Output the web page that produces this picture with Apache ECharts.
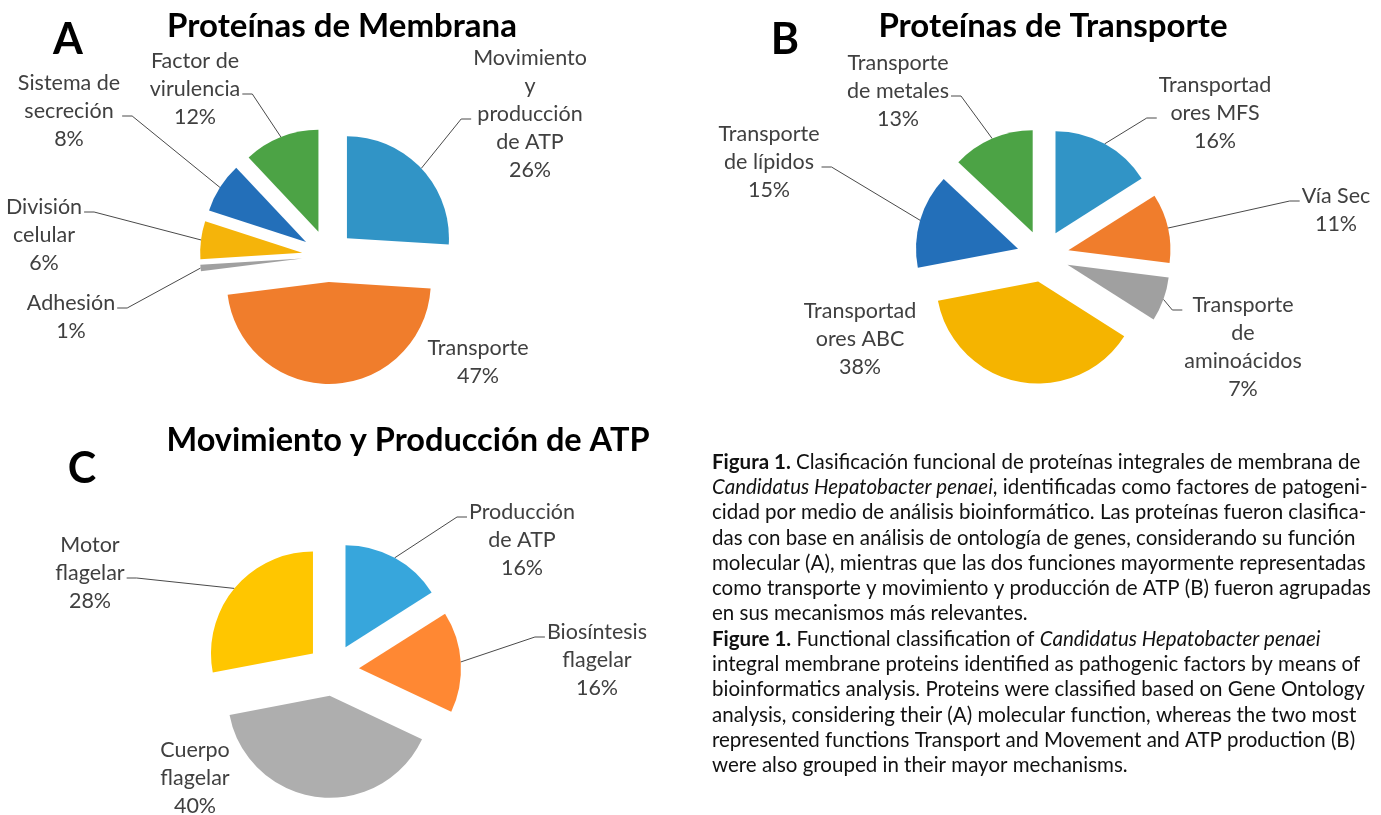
<!DOCTYPE html>
<html>
<head>
<meta charset="utf-8">
<script src="https://cdn.jsdelivr.net/npm/echarts@6/dist/echarts.min.js"></script>
<style>
html, body { margin: 0; padding: 0; background: #fff; }
#main { width: 1381px; height: 815px; }
</style>
</head>
<body>
<div id="main"></div>
<script>
// A - Proteínas de Membrana
var namesA = ['Movimiento\ny\nproducción\nde ATP', 'Transporte', 'Adhesión', 'División\ncelular', 'Sistema de\nsecreción', 'Factor de\nvirulencia'];
var valuesA = [26, 47, 1, 6, 8, 12];
var colorsA = ['#3194C6', '#F07D2C', '#A0A0A0', '#F5B40A', '#236FB9', '#4CA345'];

// B - Proteínas de Transporte
var namesB = ['Transportad\nores MFS', 'Vía Sec', 'Transporte\nde\naminoácidos', 'Transportad\nores ABC', 'Transporte\nde lípidos', 'Transporte\nde metales'];
var valuesB = [16, 11, 7, 38, 15, 13];
var colorsB = ['#3194C6', '#F07D2C', '#A0A0A0', '#F5B400', '#236FB9', '#4CA345'];

// C - Movimiento y Producción de ATP
var namesC = ['Producción\nde ATP', 'Biosíntesis\nflagelar', 'Cuerpo\nflagelar', 'Motor\nflagelar'];
var valuesC = [16, 16, 40, 28];
var colorsC = ['#37A6DC', '#FF8833', '#AEAEAE', '#FFC600'];

// slices whose label sits without a leader line
var noLineA = ['Transporte'];
var noLineB = ['Transportad\nores ABC'];
var noLineC = ['Cuerpo\nflagelar'];

// where each label block is centred (x, y)
var labelSpots = [
    [[530, 114], [478, 362], [71, 317], [44, 235], [69, 111], [195, 89]],
    [[1215, 113], [1336, 210], [1243, 347], [860, 339], [769, 162], [898, 91]],
    [[522, 540], [597, 660], [195, 778], [90, 573]]
];
// which text line / side the leader line meets
var attachAt = [
    [[2, 'L'], null, [0, 'R'], [0, 'R'], [1, 'R'], [1, 'R']],
    [[1, 'L'], [0, 'L'], [0, 'L'], null, [1, 'R'], [1, 'R']],
    [[0, 'L'], [0, 'L'], null, [1, 'R']]
];

var captionLines = [
    '{b|Figura 1.} Clasificación funcional de proteínas integrales de membrana de',
    '{i|Candidatus Hepatobacter penaei}, identificadas como factores de patogeni-',
    'cidad por medio de análisis bioinformático. Las proteínas fueron clasifica-',
    'das con base en análisis de ontología de genes, considerando su función',
    'molecular (A), mientras que las dos funciones mayormente representadas',
    'como transporte y movimiento y producción de ATP (B) fueron agrupadas',
    'en sus mecanismos más relevantes.',
    '{b|Figure 1.} Functional classification of {i|Candidatus Hepatobacter penaei}',
    'integral membrane proteins identified as pathogenic factors by means of',
    'bioinformatics analysis. Proteins were classified based on Gene Ontology',
    'analysis, considering their (A) molecular function, whereas the two most',
    'represented functions Transport and Movement and ATP production (B)',
    'were also grouped in their mayor mechanisms.'
];

var FONT = 'Lato, "Open Sans", sans-serif';
var R = 102, OFF = 26;

// exploded slices, no labels
function slicesSeries(center, names, values, colors) {
    return {
        type: 'pie',
        center: center,
        radius: R,
        startAngle: 90,
        clockwise: true,
        selectedMode: 'multiple',
        selectedOffset: OFF,
        avoidLabelOverlap: false,
        padAngle: 0,
        silent: true,
        itemStyle: { borderWidth: 0 },
        label: { show: false },
        labelLine: { show: false },
        data: names.map(function (n, i) {
            return { name: n, value: values[i], selected: true, itemStyle: { color: colors[i] } };
        })
    };
}

// same data again, invisible, only carries the labels and leader lines
function labelSeries(idx, center, names, values, noLine) {
    return {
        type: 'pie',
        center: center,
        radius: R + OFF,
        startAngle: 90,
        clockwise: true,
        avoidLabelOverlap: false,
        minShowLabelAngle: 0,
        padAngle: 0,
        silent: true,
        itemStyle: { color: 'rgba(0,0,0,0)', borderWidth: 0 },
        label: {
            show: true,
            position: 'outside',
            fontFamily: FONT,
            fontSize: 21.5,
            lineHeight: 28,
            color: '#404040',
            align: 'center',
            formatter: function (p) { return p.name + '\n' + p.value + '%'; }
        },
        labelLine: {
            show: true,
            length: 10,
            length2: 8,
            lineStyle: { color: '#4a4a4a', width: 1 }
        },
        labelLayout: function (p) {
            var s = labelSpots[idx][p.dataIndex];
            var res = { x: s[0], y: s[1], align: 'center', verticalAlign: 'middle' };
            var at = attachAt[idx][p.dataIndex];
            var pts = p.labelLinePoints;
            if (at && pts && pts.length) {
                var w = p.labelRect.width, h = p.labelRect.height;
                var n = names[p.dataIndex].split('\n').length + 1;
                var yy = s[1] - h / 2 + h / n * (at[0] + 0.5) + 5;
                var sign = at[1] === 'L' ? -1 : 1;
                var xEnd = s[0] + sign * (w / 2 + 2);
                res.labelLinePoints = [pts[0], [xEnd + sign * 10, yy], [xEnd, yy]];
            }
            return res;
        },
        data: names.map(function (n, i) {
            var item = { name: n, value: values[i] };
            if (noLine.indexOf(n) >= 0) item.labelLine = { show: false };
            return item;
        })
    };
}

function txt(x, y, text, size) {
    return {
        type: 'text',
        x: x, y: y,
        style: {
            text: text,
            fontFamily: FONT,
            fontWeight: 'bold',
            fontSize: size,
            fill: '#000',
            align: 'center',
            verticalAlign: 'middle'
        }
    };
}

var graphics = [
    txt(342, 26, 'Proteínas de Membrana', 33),
    txt(1053, 26, 'Proteínas de Transporte', 33),
    txt(408, 441, 'Movimiento y Producción de ATP', 32.5),
    txt(68, 40, 'A', 43),
    txt(785, 40, 'B', 43),
    txt(82, 469, 'C', 43)
];
captionLines.forEach(function (line, i) {
    graphics.push({
        type: 'text',
        x: 712,
        y: 462 + i * 25.3,
        style: {
            text: line,
            fontFamily: FONT,
            fontSize: 20.5,
            fill: '#111',
            align: 'left',
            verticalAlign: 'middle',
            rich: {
                b: { fontFamily: FONT, fontSize: 20.5, fontWeight: 'bold', fill: '#111' },
                i: { fontFamily: FONT, fontSize: 20.5, fontStyle: 'italic', fill: '#111' }
            }
        }
    });
});

var myChart = echarts.init(document.getElementById('main'));
myChart.setOption({
    backgroundColor: '#fff',
    animation: false,
    series: [
        slicesSeries([328, 256], namesA, valuesA, colorsA),
        slicesSeries([1043, 256], namesB, valuesB, colorsB),
        slicesSeries([333, 670], namesC, valuesC, colorsC),
        labelSeries(0, [328, 256], namesA, valuesA, noLineA),
        labelSeries(1, [1043, 256], namesB, valuesB, noLineB),
        labelSeries(2, [333, 670], namesC, valuesC, noLineC)
    ],
    graphic: graphics
});
</script>
</body>
</html>
